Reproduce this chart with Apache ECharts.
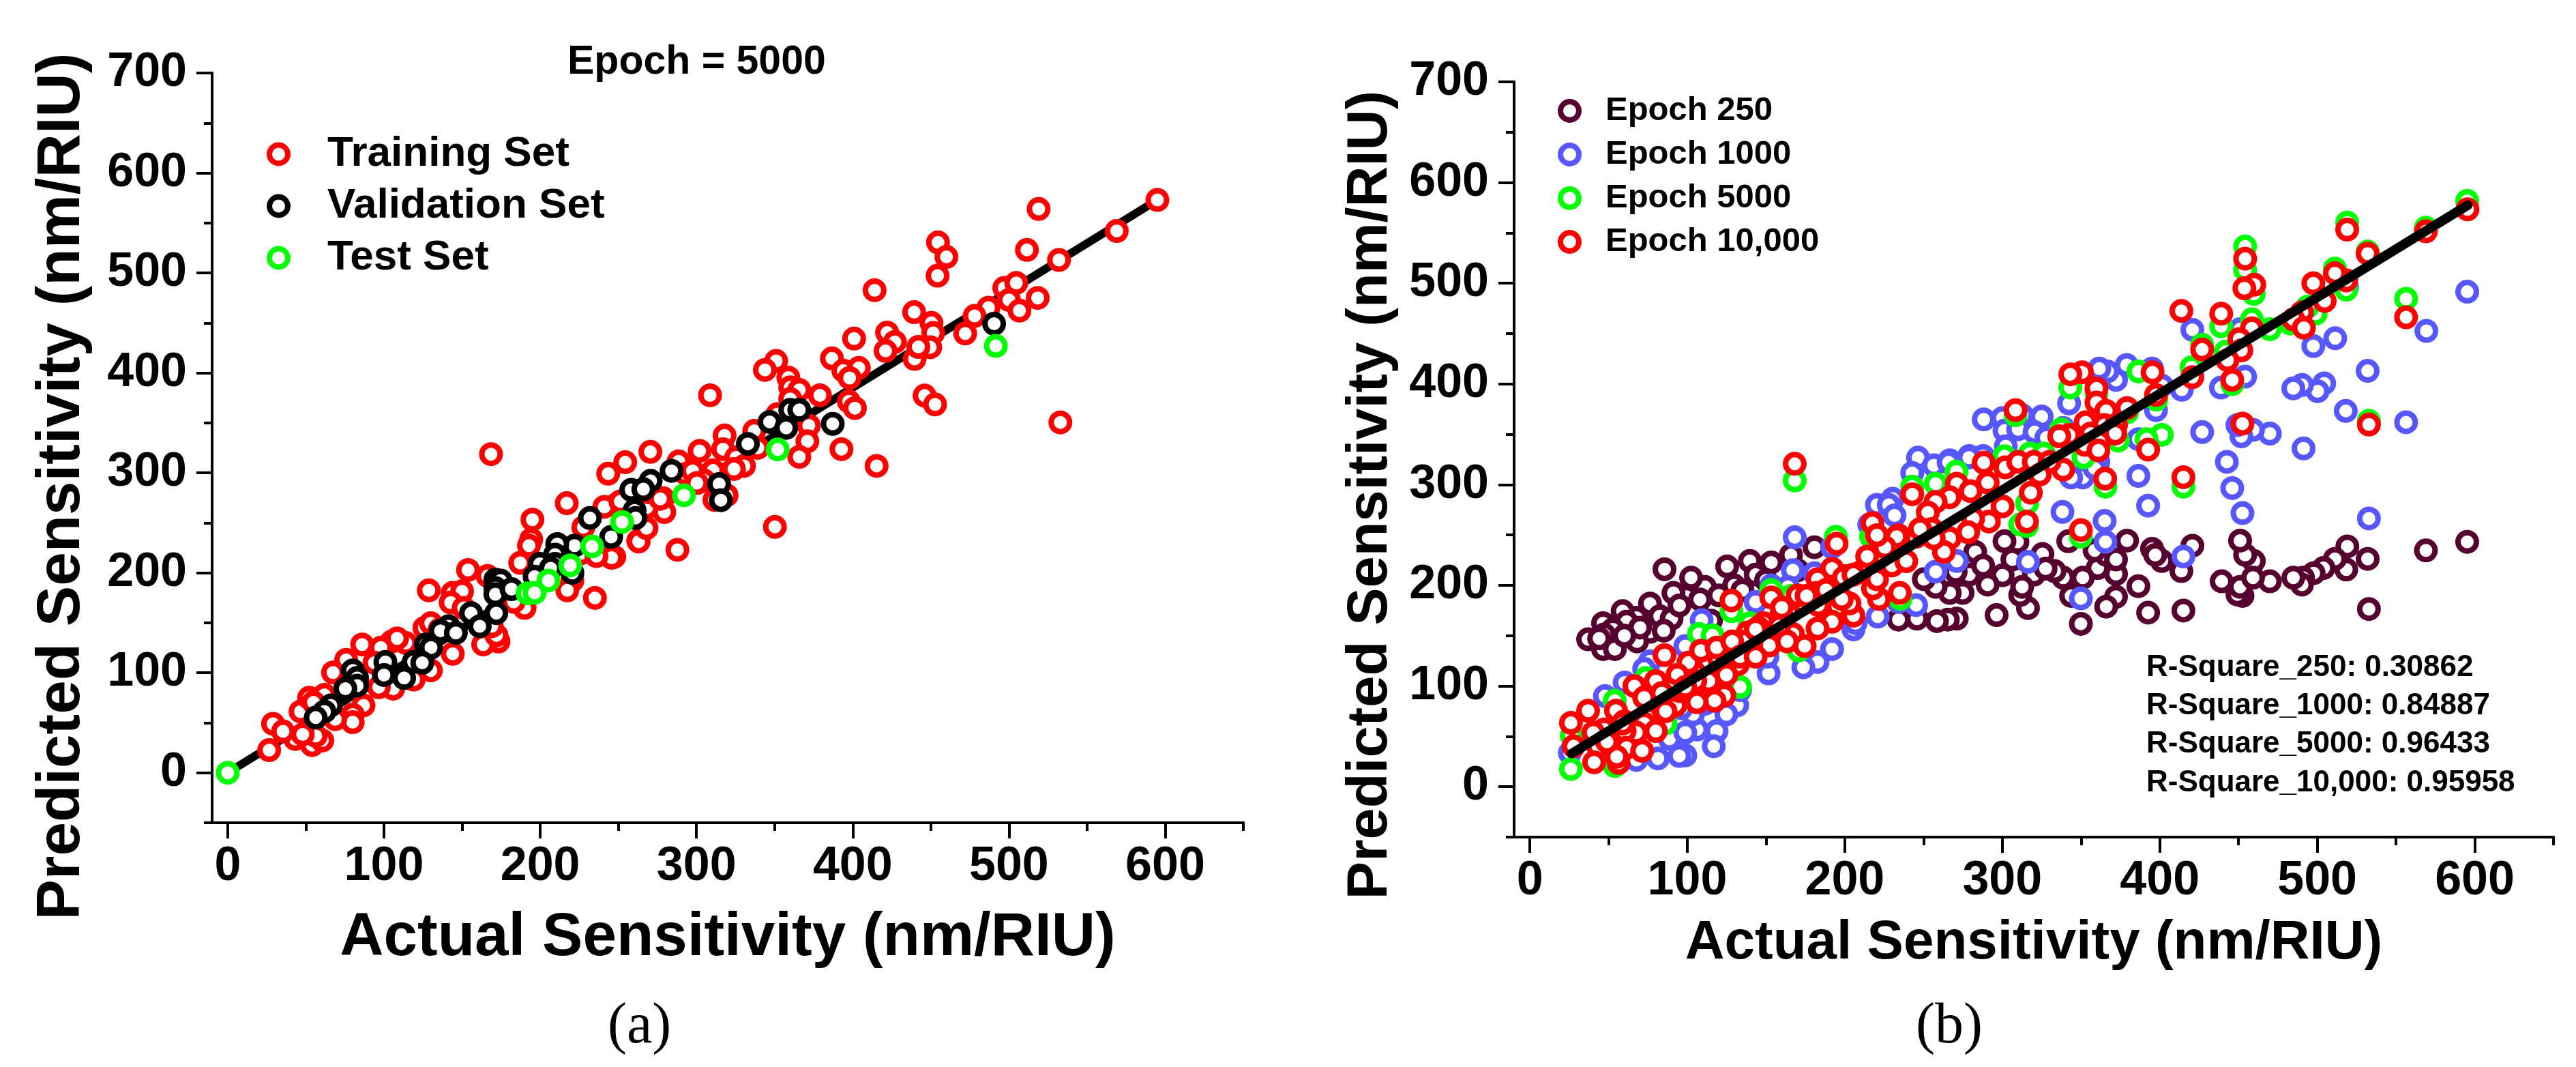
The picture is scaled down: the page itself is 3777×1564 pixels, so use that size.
<!DOCTYPE html>
<html>
<head>
<meta charset="utf-8">
<style>html,body{margin:0;padding:0;background:#fff}#chart{width:3777px;height:1564px}</style>
<script src="https://cdn.jsdelivr.net/npm/echarts@6/dist/echarts.min.js"></script>
</head>
<body>
<div id="chart"></div>
<script>
const xLabels = [0,100,200,300,400,500,600];
const yLabels = [0,100,200,300,400,500,600,700];
const xMinor = [50,150,250,350,450,550,650];
const yMinor = [-50,50,150,250,350,450,550,650];

const trainingSet = [[595,573],[569,542],[532,513],[519,564],[511.5,523],[454.6,530.5],[460,516],[454.3,497.3],[414,482.7],[439.3,460.8],[450.4,450],[451.5,440],[472,439.4],[422,440.4],[427,431],[421,422],[400.9,434.3],[449.6,425.7],[439.6,414],[442,426],[386.7,414.5],[394,402.3],[403.9,405],[398,395],[497,485],[504.7,490],[486.9,465.3],[478,457],[500,473],[506.7,462.3],[518.4,475],[446,377.3],[452.7,368.5],[532.9,350.5],[397.5,371.5],[401.4,364.8],[379,377.6],[351,412],[343.8,403],[358.8,395.3],[360,385.5],[365.8,383],[360,374],[308.7,377.6],[371.9,347.4],[371,331.6],[365.8,316],[392.8,323.7],[415.3,307],[318,337.4],[337,342],[302,322],[270.5,321],[317,323.7],[325.4,315.4],[330.4,307],[339.3,325],[254.4,310.6],[288.6,311.5],[310.6,302.4],[324,303.9],[351.8,358.7],[304.5,292.8],[293.4,299],[297.5,302],[300.3,289.8],[311.5,273],[319.3,277.6],[278.6,274.6],[279.4,260.8],[268.3,265.4],[266.9,244],[262.7,232],[287.8,223],[350.2,246],[247.4,216],[248.8,268.5],[269.7,280.6],[168.5,318.7],[243.5,299.2],[217,269.7],[195,253.2],[241,266],[194.2,233.4],[192.8,227.3],[153.8,202.9],[187.2,210],[245.7,215.1],[263,231.3],[268,244.7],[235,174.9],[251.3,271.5],[276.9,274],[227.6,245.6],[226.2,219.7],[236,216.7],[220.6,192.3],[217.3,182.5],[128.7,182.5],[144,180],[150,181.6],[142.7,170.3],[151,164.9],[166.3,196.9],[190,164.9],[183,171],[173.3,131.3],[163.5,128.3],[172,137.4],[169,146.6],[125.9,145],[130,149.6],[135.7,143.5],[114,129.8],[105,131.3],[108.4,134.4],[98,125.2],[144,119],[86,128.3],[75.8,113],[93.9,110],[67.4,100.3],[130,102.4],[119,93.3],[105.9,84.1],[96.7,85.6],[86.9,67.4],[80,58.2],[80,50.6],[68.8,53.6],[46.6,61.3],[52.1,75],[61.9,78],[54.9,70.4],[29,49],[26.5,22.6],[43.2,33.8],[35.4,41.4],[54,27.7],[60.5,32.3],[56.3,36.9],[48,38.4]];
const validationSet = [[490.5,449.2],[387.2,349],[360,363],[365.8,363],[346.8,351],[357.4,345],[332.9,329],[284.1,302],[270.7,292],[258.2,283],[266,283.7],[260.4,262.4],[261,254.8],[231.8,254.8],[245.4,235.9],[222,227.3],[210.9,228.8],[209.5,218.2],[199.7,209],[209.5,209],[206.7,204.5],[196.4,196.2],[220.6,200],[171.3,193.2],[174.7,192.3],[171.3,184.7],[171.3,178.6],[181.6,183.7],[171.9,159.7],[155.7,159.7],[161.3,146.6],[141.3,146.6],[136.2,142],[146,139.9],[126.8,128.3],[130.1,125.2],[119,110.9],[124.5,110],[100.9,110.9],[100,97.8],[112.9,94.8],[80,102.4],[82.8,94.8],[82.8,87.2],[75.3,84.1],[66,67.4],[61.9,61.3],[56.3,55.2],[314.5,288.9],[315.6,272.7]];
const testSet = [[491.6,427],[352,323.4],[292,277.6],[252.4,250.8],[0,0],[191.9,179.5],[196.4,180],[205.3,192.3],[219.2,207.5],[233.2,226.4]];
const fitA = [[0,0],[595,573]];

const epoch250 = [[595.2,243.2],[569,234.7],[532.8,176.5],[532,226.3],[519.1,238.7],[518.4,215.7],[511.2,226.3],[504,217.2],[497.7,212.1],[491,207.6],[490.3,200.7],[484.8,207.6],[469.9,204],[459.7,224.2],[454.2,230.2],[451,244.4],[452.5,189.5],[449.3,191],[451,198.5],[439.3,204],[459.2,207.6],[420.7,239.3],[413.7,214.2],[415,175],[401.3,224.2],[395.1,236.3],[397.1,230.2],[392.6,172.9],[386.4,199.2],[379.2,244.4],[349.9,161.8],[372.2,211.2],[372.2,188.6],[366,178.9],[360.6,217.2],[366,230.2],[358.6,234.7],[372.2,225.7],[351.1,207.6],[343.7,189.5],[341.9,243.8],[338.7,207.6],[333.2,214.2],[325.5,231.1],[320.1,210.6],[316.3,177.4],[311.4,190.4],[309.6,243.2],[301.4,243.8],[300.2,210],[296.4,170.5],[290.7,200.7],[279,210.6],[274.8,192.5],[271.1,166.9],[265.4,166],[282.8,233.2],[287.8,219.7],[306.4,225.7],[327.5,216.6],[312.6,198.5],[266.6,192.5],[270.4,213.6],[258.5,164.5],[245.8,166.9],[234.1,166],[257.7,198.5],[250.2,206.1],[180.7,237.8],[165.8,230.2],[153.3,222.7],[139.7,224.2],[125.3,218.8],[143.4,210.6],[129.7,200],[111.1,198.5],[102.4,207.6],[85.5,216],[99.4,188.6],[91.2,192.5],[117.3,177.4],[76.3,181.9],[82.5,169.3],[67.6,167.8],[58.9,174.4],[61.4,163.9],[90,166.9],[46.5,162.4],[52.7,156.3],[76.3,153.9],[68.1,144.3],[47.2,151.2],[37,146.4],[46.5,136.7],[54,136.7],[44,147.3],[95,180],[108,186],[120,190],[135,195],[150,205],[170,215],[115,165],[70,158],[85,155],[60,150]];
const epoch1000 = [[595.2,491.6],[569.3,452.7],[518.9,496.4],[511.4,445.4],[497.5,437.6],[504.4,400.6],[500.2,392.8],[490.3,399],[484.8,395.6],[532,413],[518.1,373.2],[556.4,362],[491.3,336],[469.9,350.7],[459.2,354.4],[451.8,348],[449.3,359.2],[426.9,352.2],[442.6,322.7],[454.2,407.3],[438.8,396.4],[420.7,453.8],[451,454.4],[414,394.2],[401.3,398.4],[397.6,374],[395.1,415.2],[379,418.8],[372.2,404],[366.8,412.4],[361.6,415.2],[342.4,380.7],[386.4,345.2],[386.4,308.7],[325,367.6],[312.6,369],[300.2,366.2],[288.2,364.8],[301.4,353.6],[310.1,355],[320.5,352.2],[328,346.6],[302.2,338.2],[338.7,356.4],[361,322.7],[279,328.4],[266.6,324.2],[287.8,328.4],[446,296.6],[452.5,271.8],[532.8,266.4],[392.6,279.1],[338.2,273],[365,264],[365.5,243.2],[415,228.7],[316.3,223.3],[271.1,224.2],[349.9,187.1],[351.1,307.1],[343.7,307.1],[358.6,316.2],[168.2,247.7],[246.5,326.8],[242.8,311.6],[256.5,319.2],[265.9,322.2],[278.8,326.8],[220.4,280],[230.4,286],[227.9,280],[231.6,269.4],[215.5,260.4],[257.7,213.6],[245.3,180.4],[220.9,169],[234.1,183.5],[205.5,156.3],[206.8,162.4],[191.9,136.7],[182.7,123.8],[173.7,118.6],[151.6,112.6],[167,215.1],[143.4,183.5],[153.3,200],[180.7,212.1],[191.9,237.8],[163.8,198.5],[109.1,165.4],[98.7,139.7],[76.3,124.7],[72.6,117.1],[60.2,103.5],[47.7,90],[131.7,80.9],[124.8,71.9],[118.6,55.3],[116.8,40.2],[106.1,56.8],[91.2,49.2],[98.7,31.2],[94.9,30.6],[81.3,28.1],[67.6,26.6],[25.4,33.6],[27.8,46.2],[103.6,71.9],[96.2,77.9],[111.1,82.4],[88.7,47.7],[98.7,53.8],[133.5,96],[193.1,195.5],[150.9,129.2]];
const epoch5000 = [[595.2,581.8],[569,555.2],[556.4,484.6],[532,531.4],[519,560.3],[518.4,493.6],[511.2,514.6],[499,469.8],[494,476.8],[482.8,460],[469.9,454.4],[459.7,489.4],[454.2,536.5],[454.2,513.2],[458.5,464.2],[439,457.2],[426.9,439],[441.8,432],[420.2,416.6],[446,399.8],[386.4,412.4],[397.8,384.4],[401.3,349.4],[391.6,345.2],[343.2,396.4],[359.8,391.4],[379.2,371.8],[373.5,343.7],[308.4,369],[337.4,355],[351.6,327],[301.4,328.3],[317.6,331],[270.9,313],[326.3,331],[415,298],[365.5,298],[532.8,363.4],[349.9,248.3],[315.6,258.9],[311.4,260.4],[315.8,281.5],[168.2,304.1],[194.3,248.3],[128,174.4],[242.8,298],[257.7,301],[107.4,151.8],[116,150.3],[153.3,195.5],[165.8,189.5],[216.7,248.3],[235.3,186.5],[53.9,85.5],[53.9,20.6],[26.1,17.6],[26.6,50.8],[73.8,108],[170.7,135.2],[139.7,162.4],[133.5,99],[86.2,62.8]];
const epoch10000 = [[595.4,573.4],[569,551.6],[532,529.5],[519,553.3],[518.4,502.8],[511.2,509.9],[497.5,500],[504.7,482.4],[490.3,471.2],[484.8,464.2],[491.5,455.8],[460,498.6],[454.2,524.4],[453.7,495],[413.7,472.6],[439,469.8],[458.5,455.2],[450.5,444.6],[451.8,433.4],[443,423.6],[426.9,434.2],[420.7,406.8],[446,404],[395.4,411.5],[397.6,389.1],[379.2,376],[350.6,411.5],[343.2,409.6],[359.8,395.6],[359.8,381.6],[366,373.2],[352.9,362],[364.8,359.2],[372.2,359.2],[371.7,350.8],[308.4,374],[342.4,349.4],[336.2,348],[356.1,350.8],[361.6,342.4],[352.4,339.5],[361,334],[392.6,334.8],[452.5,360.6],[532.8,359.7],[556.4,466.2],[415,307.4],[365.3,306],[338.7,315],[288.2,321.9],[301.9,317.2],[310.1,322.7],[320,322.7],[330,322.7],[323.8,310],[271.1,301],[266.6,287.5],[279.8,293.5],[290.7,302],[318.1,292],[300.2,278.5],[291.5,263.4],[281.5,266.4],[278.3,252.8],[266.6,246.8],[262.9,233.2],[315.6,263.4],[349.9,254.9],[168.2,320.7],[194.8,241.4],[217.5,261.9],[242.8,290.5],[257.7,283],[252.7,272.4],[255.2,255.9],[256.5,246.8],[245.3,248.3],[234.1,249.8],[219.2,225.7],[210.5,213.6],[200.6,209.1],[191.9,216.6],[182.7,206.1],[181.9,192.5],[183.2,180.4],[173.2,183.5],[159.6,169.9],[153.3,188],[167,151.8],[174.5,139.7],[148.4,162.4],[138.4,153.3],[137.2,144.3],[128,185],[152.1,140.3],[132.2,121.6],[113.6,124.7],[100.7,123.2],[85.5,130.7],[93.7,111.1],[124.8,111.1],[113.6,105],[80,105],[66.4,99.9],[72.6,88.5],[123.5,90.6],[117.3,85.4],[103.6,91.5],[92.5,80.9],[86.2,74.9],[74.3,68.9],[72.6,62.8],[80,55.3],[67.6,53.8],[60.2,55.3],[54.7,75.5],[37,75.5],[26.1,63.4],[27.8,40.2],[43.3,40.2],[47.2,56.8],[40.3,53.8],[61.4,38.7],[71.3,35.7],[40.8,24.2],[56.4,23.6],[55.2,29.7],[195.6,179],[191.9,163.9],[182.7,157.2],[205.5,169.9],[203,182],[221.7,186.5],[217.9,197],[220.4,206],[229.9,219.7],[234.9,192.5],[239,224],[199.3,207.6],[232.9,248.3],[214.2,228.7],[130,135],[120,128],[145,158],[160,178],[170,190],[105,105],[95,95],[60,65],[108.6,135.2],[118.6,138.2],[128.5,144.3],[143.4,156.3],[158.3,159.3],[175.7,189.5],[188.1,195.5],[205.5,210.6],[225.4,237.8],[247.8,255.9],[106.1,83.9],[98.7,99],[88.7,96],[58.9,62.8],[49,44.7],[83.8,93],[133.5,129.2],[143.4,129.2],[163.3,144.3],[198.1,186.5],[220.4,249.8]];
const fitB = [[26.5,32.9],[595.6,577.6]];

const rSquareLines = ['R-Square_250: 0.30862','R-Square_1000: 0.84887','R-Square_5000: 0.96433','R-Square_10,000: 0.95958'];

const FONT = '"Liberation Sans", Arial, sans-serif';
const SERIF = '"Liberation Serif", serif';
const RED='#ff0000', BLACK='#000000', GREEN='#00ff00', BLUE='#5757ff', PLUM='#560030';

function axisBase(extra){
  return Object.assign({type:'value',splitLine:{show:false},
    axisLine:{show:true,onZero:false,lineStyle:{color:'#000',width:4}}},extra);
}
function majorX(grid,vals,name,size,gap,pad){return axisBase({gridIndex:grid,position:'bottom',min:-10,max:650,
  name,nameLocation:'middle',nameGap:gap,nameTextStyle:{fontFamily:FONT,fontWeight:'bold',fontSize:size,color:'#000',padding:pad},
  axisTick:{show:true,inside:false,length:23,customValues:vals,lineStyle:{color:'#000',width:4}},
  axisLabel:{show:true,customValues:vals,margin:30,fontFamily:FONT,fontWeight:'bold',fontSize:70,color:'#000'}});}
function minorX(grid){return axisBase({gridIndex:grid,position:'bottom',min:-10,max:650,
  axisTick:{show:true,length:12,customValues:xMinor,lineStyle:{color:'#000',width:4}},axisLabel:{show:false}});}
function majorY(grid,name,size,gap,pad){return axisBase({gridIndex:grid,position:'left',min:-50,max:700,
  name,nameLocation:'middle',nameGap:gap,nameTextStyle:{fontFamily:FONT,fontWeight:'bold',fontSize:size,color:'#000',padding:pad},
  axisTick:{show:true,length:23,customValues:yLabels,lineStyle:{color:'#000',width:4}},
  axisLabel:{show:true,customValues:yLabels,margin:37,fontFamily:FONT,fontWeight:'bold',fontSize:70,color:'#000'}});}
function minorY(grid){return axisBase({gridIndex:grid,position:'left',min:-50,max:700,
  axisTick:{show:true,length:12,customValues:yMinor,lineStyle:{color:'#000',width:4}},axisLabel:{show:false}});}

function ring(name,data,color,xi,yi,z){return {type:'scatter',name,data,xAxisIndex:xi,yAxisIndex:yi,z,
  symbol:'circle',symbolSize:27,silent:true,clip:false,
  itemStyle:{color:'#ffffff',borderColor:color,borderWidth:8,opacity:1}};}
function fit(name,data,xi,yi,z,w){return {type:'line',name,data,xAxisIndex:xi,yAxisIndex:yi,z,
  symbol:'none',silent:true,lineStyle:{color:'#000',width:w,cap:'round'}};}

const option = {
  animation:false,
  backgroundColor:'#ffffff',
  grid:[
    {left:311,top:107,width:1512,height:1099},
    {left:2220,top:120,width:1524,height:1107}
  ],
  xAxis:[
    majorX(0,xLabels,'Actual Sensitivity (nm/RIU)',89,125,[0,0,0,0]),
    minorX(0),
    majorX(1,xLabels,'Actual Sensitivity (nm/RIU)',80,116,[0,0,0,0]),
    minorX(1)
  ],
  yAxis:[
    majorY(0,'Predicted Sensitivity (nm/RIU)',89,175,[0,113,0,0]),
    minorY(0),
    majorY(1,'Predicted Sensitivity (nm/RIU)',83,168,[0,104,0,0]),
    minorY(1)
  ],
  legend:[
    {left:386,top:190,orient:'vertical',itemWidth:27,itemHeight:27,itemGap:14,
     itemStyle:{borderWidth:8},
     data:['Training Set','Validation Set','Test Set'],
     textStyle:{fontFamily:FONT,fontWeight:'bold',fontSize:62,color:'#000',padding:[0,0,0,53]}},
    {left:2279,top:133,orient:'vertical',itemWidth:27,itemHeight:27,itemGap:15,
     itemStyle:{borderWidth:8},
     data:['Epoch 250','Epoch 1000','Epoch 5000','Epoch 10,000'],
     textStyle:{fontFamily:FONT,fontWeight:'bold',fontSize:49,color:'#000',padding:[0,0,0,34]}}
  ],
  series:[
    fit('Fit A',fitA,0,0,1,12),
    ring('Training Set',trainingSet,RED,0,0,2),
    ring('Validation Set',validationSet,BLACK,0,0,3),
    ring('Test Set',testSet,GREEN,0,0,4),
    ring('Epoch 250',epoch250,PLUM,2,2,2),
    ring('Epoch 1000',epoch1000,BLUE,2,2,3),
    ring('Epoch 5000',epoch5000,GREEN,2,2,4),
    ring('Epoch 10,000',epoch10000,RED,2,2,5),
    fit('Fit B',fitB,2,2,6,14)
  ],
  graphic:[
    {type:'text',left:832,top:62,style:{text:'Epoch = 5000',fontFamily:FONT,fontWeight:'bold',fontSize:59,fill:'#000'}},
    {type:'text',left:891,top:1464,style:{text:'(a)',fontFamily:SERIF,fontSize:84,fill:'#000'}},
    {type:'text',left:2809,top:1464,style:{text:'(b)',fontFamily:SERIF,fontSize:84,fill:'#000'}}
  ].concat(rSquareLines.map((t,i)=>({type:'text',left:3147,top:[957,1013,1069,1126][i],
    style:{text:t,fontFamily:FONT,fontWeight:'bold',fontSize:44,fill:'#000'}})))
};
const chart = echarts.init(document.getElementById('chart'),null,{renderer:'canvas',width:3777,height:1564,devicePixelRatio:1});
chart.setOption(option);
</script>
</body>
</html>
